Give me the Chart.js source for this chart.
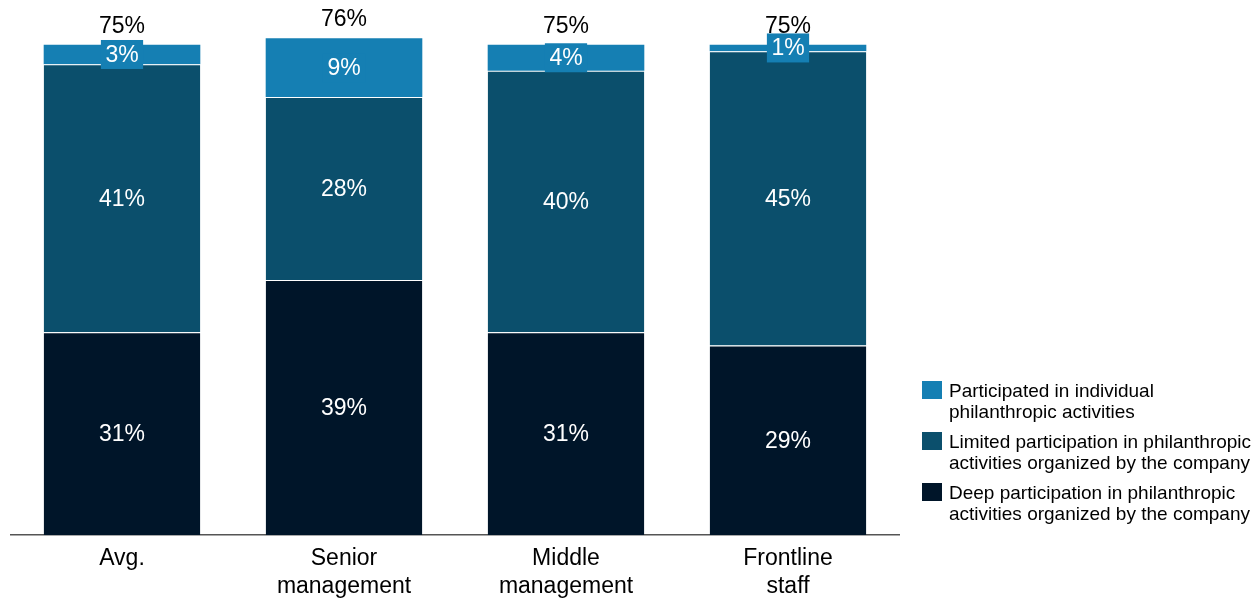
<!DOCTYPE html>
<html>
<head>
<meta charset="utf-8">
<script src="https://cdn.jsdelivr.net/npm/chart.js@4"></script>
<style>
  html, body { margin: 0; padding: 0; background: #fff; }
  #wrap { width: 1253px; height: 600px; position: relative; }
</style>
</head>
<body>
<div id="wrap"><canvas id="chart"></canvas></div>
<script>
const categories = [["Avg."], ["Senior", "management"], ["Middle", "management"], ["Frontline", "staff"]];
const deep = [31, 39, 31, 29];
const limited = [41, 28, 40, 45];
const individual = [3, 9, 4, 1];
const totals = [75, 76, 75, 75];
const seriesNames = [
    ["Participated in individual", "philanthropic activities"],
    ["Limited participation in philanthropic", "activities organized by the company"],
    ["Deep participation in philanthropic", "activities organized by the company"]
];

const FONT = "'Liberation Sans', Arial, sans-serif";

// white values inside each segment, totals above the bars
const labelsPlugin = {
    id: "segLabels",
    afterDatasetsDraw(chart) {
        const ctx = chart.ctx;
        ctx.save();
        ctx.font = "23px " + FONT;
        ctx.textAlign = "center";
        ctx.textBaseline = "middle";
        chart.data.datasets.forEach((ds, di) => {
            const meta = chart.getDatasetMeta(di);
            meta.data.forEach((bar, i) => {
                const txt = ds.data[i] + "%";
                const y = (bar.y + bar.base) / 2;
                if (di === 2) {
                    const w = ctx.measureText(txt).width + 9;
                    ctx.fillStyle = ds.backgroundColor;
                    ctx.fillRect(bar.x - w / 2, y - 14.5, w, 29);
                }
                ctx.fillStyle = "#ffffff";
                ctx.fillText(txt, bar.x, y + 1);
            });
        });
        const topMeta = chart.getDatasetMeta(2);
        ctx.fillStyle = "#000000";
        topMeta.data.forEach((bar, i) => {
            ctx.fillText(totals[i] + "%", bar.x, bar.y - 18);
        });
        ctx.restore();
    }
};

// legend on the right with two-line labels
const legendPlugin = {
    id: "sideLegend",
    afterDraw(chart) {
        const ctx = chart.ctx;
        ctx.save();
        ctx.font = "19px " + FONT;
        ctx.textAlign = "left";
        ctx.textBaseline = "middle";
        const order = [2, 1, 0];
        order.forEach((di, k) => {
            const top = 381 + k * 51;
            ctx.fillStyle = chart.data.datasets[di].backgroundColor;
            ctx.fillRect(922, top, 20, 18);
            ctx.fillStyle = "#000000";
            seriesNames[k].forEach((line, j) => {
                ctx.fillText(line, 949, top + 11 + j * 21);
            });
        });
        ctx.restore();
    }
};

new Chart(document.getElementById("chart"), {
    type: "bar",
    data: {
        labels: categories,
        datasets: [
            {
                label: seriesNames[2].join(" "),
                data: deep,
                backgroundColor: "#001529",
                borderColor: "#ffffff",
                borderWidth: { top: 1, bottom: 0, left: 0, right: 0 },
                borderSkipped: false
            },
            {
                label: seriesNames[1].join(" "),
                data: limited,
                backgroundColor: "#0b4f6c",
                borderColor: "#ffffff",
                borderWidth: { top: 1, bottom: 0, left: 0, right: 0 },
                borderSkipped: false
            },
            {
                label: seriesNames[0].join(" "),
                data: individual,
                backgroundColor: "#157fb3",
                borderWidth: 0
            }
        ]
    },
    options: {
        responsive: true,
        maintainAspectRatio: false,
        animation: false,
        layout: { padding: { left: 11, right: 354, top: 12, bottom: 0 } },
        categoryPercentage: 0.85,
        barPercentage: 0.83,
        plugins: {
            legend: { display: false },
            tooltip: { enabled: false }
        },
        scales: {
            x: {
                stacked: true,
                grid: { display: false, drawTicks: false },
                border: { display: true, color: "#555555", width: 1.5 },
                ticks: {
                    color: "#000000",
                    font: { family: FONT, size: 23 },
                    padding: 10,
                    maxRotation: 0
                },
                afterFit(scale) { scale.height = 65; }
            },
            y: {
                stacked: true,
                display: false,
                min: 0,
                max: 80
            }
        }
    },
    plugins: [labelsPlugin, legendPlugin]
});
</script>
</body>
</html>
